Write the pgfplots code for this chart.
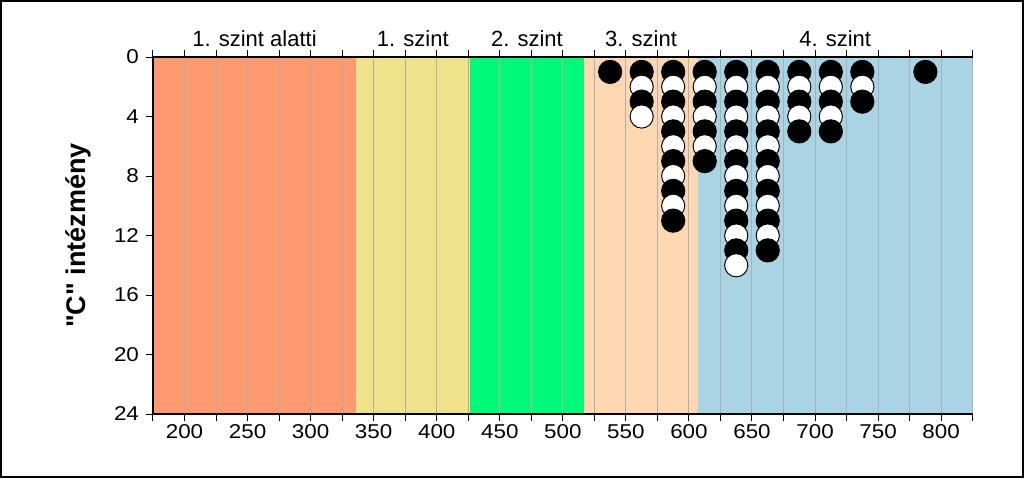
\documentclass[border=0pt]{standalone}
\usepackage{fontspec}
\setmainfont{Liberation Sans}
\newfontfamily\tickfont{Liberation Sans}[FakeStretch=1.12]
\newfontfamily\labelfont{Liberation Sans}[Ligatures=TeXOff]
\usepackage{pgfplots}
\pgfplotsset{compat=1.18}
\definecolor{bandA}{RGB}{255,153,112}
\definecolor{bandB}{RGB}{238,226,138}
\definecolor{bandC}{RGB}{0,250,120}
\definecolor{bandD}{RGB}{255,216,178}
\definecolor{bandE}{RGB}{168,212,228}
\definecolor{gridgray}{RGB}{175,175,175}
\begin{document}
\begin{tikzpicture}
\useasboundingbox (-76.5pt,-32pt) rectangle (435.5pt,207pt);
\begin{axis}[
  at={(0,0)}, anchor=south west,
  scale only axis, width=409.85pt, height=178.5pt,
  xmin=175, xmax=825, ymin=0, ymax=24, y dir=reverse,
  axis x line*=box, axis y line*=left,
  axis on top, clip=false,
  xtick={200,250,...,800}, minor xtick={175,225,...,825},
  ytick={0,4,...,24},
  xmajorgrids, xminorgrids,
  major grid style={draw=gridgray, line width=0.5pt},
  minor grid style={draw=gridgray, line width=0.5pt},
  tick align=outside,
  major tick length=3.5pt, minor tick length=3.5pt,
  tick style={black, line width=0.5pt},
  axis line style={line width=0.6pt},
  /pgf/number format/assume math mode=true,
  ticklabel style={font=\tickfont\fontsize{10}{11}\selectfont},
  xticklabel style={yshift=2pt},
  ylabel={"C" intézmény},
  ylabel style={at={(axis description cs:-0.0915,0.5)}, anchor=center, font=\labelfont\bfseries\fontsize{13.5}{15}\selectfont},
]
\addplot[fill=bandA, draw=none, forget plot] coordinates {(175,0) (336,0) (336,24) (175,24)} -- cycle;
\addplot[fill=bandB, draw=none, forget plot] coordinates {(336,0) (426,0) (426,24) (336,24)} -- cycle;
\addplot[fill=bandC, draw=none, forget plot] coordinates {(426,0) (517,0) (517,24) (426,24)} -- cycle;
\addplot[fill=bandD, draw=none, forget plot] coordinates {(517,0) (607,0) (607,24) (517,24)} -- cycle;
\addplot[fill=bandE, draw=none, forget plot] coordinates {(607,0) (825,0) (825,24) (607,24)} -- cycle;
\addplot[scatter, only marks, mark=*, mark size=5.8pt,
  point meta=explicit symbolic,
  scatter/classes={
    b={mark=*, fill=black, draw=black, line width=0.5pt},
    w={mark=*, fill=white, draw=black, line width=0.5pt}}]
  table[meta=c] {
x y c
537.5 1 b
562.5 1 b
562.5 2 w
562.5 3 b
562.5 4 w
587.5 1 b
587.5 2 w
587.5 3 b
587.5 4 w
587.5 5 b
587.5 6 w
587.5 7 b
587.5 8 w
587.5 9 b
587.5 10 w
587.5 11 b
612.5 1 b
612.5 2 w
612.5 3 b
612.5 4 w
612.5 5 b
612.5 6 w
612.5 7 b
637.5 1 b
637.5 2 w
637.5 3 b
637.5 4 w
637.5 5 b
637.5 6 w
637.5 7 b
637.5 8 w
637.5 9 b
637.5 10 w
637.5 11 b
637.5 12 w
637.5 13 b
637.5 14 w
662.5 1 b
662.5 2 w
662.5 3 b
662.5 4 w
662.5 5 b
662.5 6 w
662.5 7 b
662.5 8 w
662.5 9 b
662.5 10 w
662.5 11 b
662.5 12 w
662.5 13 b
687.5 1 b
687.5 2 w
687.5 3 b
687.5 4 w
687.5 5 b
712.5 1 b
712.5 2 w
712.5 3 b
712.5 4 w
712.5 5 b
737.5 1 b
737.5 2 w
737.5 3 b
787.5 1 b
};
\node[anchor=base, yshift=5.5pt, font=\fontsize{11}{13}\selectfont] at (axis cs:255.5,0) {1. szint alatti};
\node[anchor=base, yshift=5.5pt, font=\fontsize{11}{13}\selectfont] at (axis cs:381,0) {1. szint};
\node[anchor=base, yshift=5.5pt, font=\fontsize{11}{13}\selectfont] at (axis cs:471.5,0) {2. szint};
\node[anchor=base, yshift=5.5pt, font=\fontsize{11}{13}\selectfont] at (axis cs:562,0) {3. szint};
\node[anchor=base, yshift=5.5pt, font=\fontsize{11}{13}\selectfont] at (axis cs:716,0) {4. szint};
\end{axis}
\draw[line width=1pt] (-76pt,-31.5pt) rectangle (435pt,206.5pt);
\end{tikzpicture}
\end{document}
